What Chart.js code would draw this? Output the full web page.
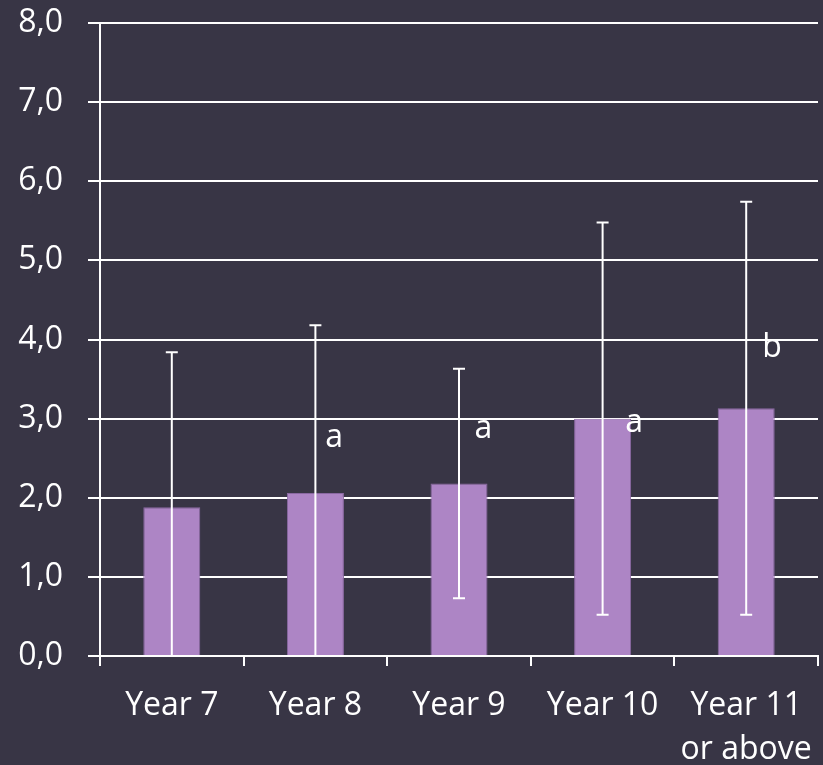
<!DOCTYPE html>
<html>
<head>
<meta charset="utf-8">
<script src="https://cdn.jsdelivr.net/npm/chart.js@4.4.1/dist/chart.umd.min.js"></script>
<style>
  html, body { margin: 0; padding: 0; background: #383545; }
  #wrap { width: 823px; height: 765px; }
</style>
</head>
<body>
<div id="wrap"><canvas id="c" width="823" height="765"></canvas></div>
<script>
// ---- data ----
const categories = [["Year 7"], ["Year 8"], ["Year 9"], ["Year 10"], ["Year 11", "or above"]];
const means = [1.88, 2.06, 2.18, 3.00, 3.13];
const sds = [1.96, 2.12, 1.45, 2.48, 2.61];
const yTicks = [0, 1, 2, 3, 4, 5, 6, 7, 8];
// significance letters: category index (fractional) and value of baseline
const annText = ["a", "a", "a", "b"];
const annCat = [1.13, 2.17, 3.22, 4.18];
const annVal = [2.64, 2.76, 2.83, 3.78];

const BG = '#383545';
const FG = '#ffffff';
const FONT = "'Open Sans', 'Noto Sans', sans-serif";

const bgPlugin = {
  id: 'bg',
  beforeDraw(chart) {
    const ctx = chart.ctx;
    ctx.save();
    ctx.fillStyle = BG;
    ctx.fillRect(0, 0, chart.width, chart.height);
    ctx.restore();
  }
};

const errPlugin = {
  id: 'errbars',
  afterDatasetsDraw(chart) {
    const ctx = chart.ctx;
    const y = chart.scales.y;
    const meta = chart.getDatasetMeta(0);
    const area = chart.chartArea;
    ctx.save();
    ctx.strokeStyle = FG;
    ctx.lineWidth = 2;
    meta.data.forEach((bar, i) => {
      const x = bar.x;
      const hiV = means[i] + sds[i];
      const loV = means[i] - sds[i];
      const yHi = y.getPixelForValue(hiV);
      const yLo = Math.min(y.getPixelForValue(loV), area.bottom);
      ctx.beginPath();
      ctx.moveTo(x, yHi);
      ctx.lineTo(x, yLo);
      ctx.moveTo(x - 6, yHi);
      ctx.lineTo(x + 6, yHi);
      if (loV >= y.min) {
        ctx.moveTo(x - 6, yLo);
        ctx.lineTo(x + 6, yLo);
      }
      ctx.stroke();
    });
    // annotations
    const xs = chart.scales.x;
    ctx.fillStyle = FG;
    ctx.font = "32px " + FONT;
    ctx.textAlign = 'center';
    ctx.textBaseline = 'alphabetic';
    annText.forEach((t, i) => {
      const c0 = Math.floor(annCat[i]);
      const frac = annCat[i] - c0;
      const p0 = xs.getPixelForValue(c0);
      const p1 = xs.getPixelForValue(c0 + 1);
      const px = p0 + (p1 - p0) * frac;
      ctx.fillText(t, px, y.getPixelForValue(annVal[i]));
    });
    ctx.restore();
  }
};

new Chart(document.getElementById('c'), {
  type: 'bar',
  data: {
    labels: categories,
    datasets: [{
      data: means,
      backgroundColor: '#ad85c5',
      borderColor: '#8a68a2',
      borderWidth: 1,
      barPercentage: 0.397,
      categoryPercentage: 1.0
    }]
  },
  options: {
    responsive: false,
    animation: false,
    devicePixelRatio: 1,
    layout: { padding: 0 },
    plugins: {
      legend: { display: false },
      tooltip: { enabled: false }
    },
    scales: {
      x: {
        grid: {
          display: true,
          drawOnChartArea: false,
          drawTicks: true,
          tickLength: 10,
          color: FG,
          lineWidth: 2,
          offset: true
        },
        border: { display: true, color: FG, width: 2 },
        ticks: {
          color: FG,
          font: { family: FONT, size: 32, lineHeight: 1.4 },
          padding: 17,
          maxRotation: 0,
          autoSkip: false
        },
        afterFit(scale) {
          scale.height = 109;
          scale.paddingLeft = 0;
          scale.paddingRight = 5;
        }
      },
      y: {
        min: 0,
        max: 8,
        afterBuildTicks(scale) { scale.ticks = yTicks.map(v => ({ value: v })); },
        grid: {
          color: FG,
          lineWidth: 2,
          drawTicks: true,
          tickLength: 12
        },
        border: { display: true, color: FG, width: 2 },
        ticks: {
          color: FG,
          font: { family: FONT, size: 32 },
          padding: 25,
          callback: (v) => Number(v).toFixed(1).replace('.', ',')
        },
        afterFit(scale) {
          scale.width = 100;
          scale.paddingTop = 23;
          scale.paddingBottom = 0;
        }
      }
    }
  },
  plugins: [bgPlugin, errPlugin]
});
</script>
</body>
</html>
